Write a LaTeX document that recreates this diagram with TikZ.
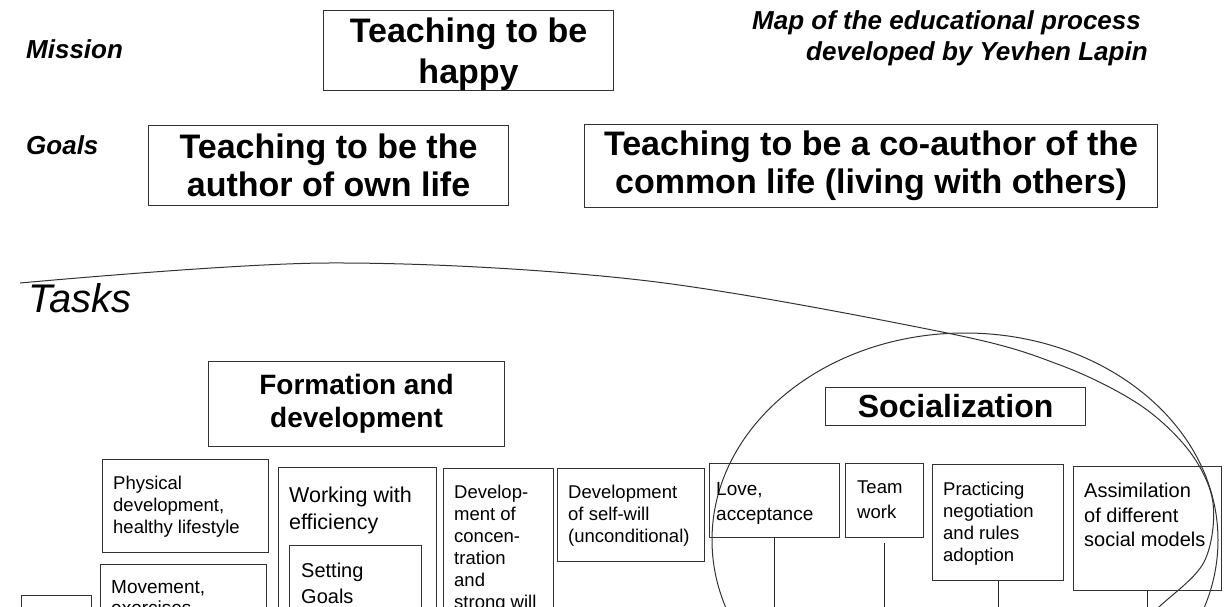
\documentclass[tikz,border=0pt]{standalone}
\usepackage{fontspec}
\setmainfont{Liberation Sans}
\usetikzlibrary{positioning}

\tikzset{
  frame/.style={draw=black!80, line width=1.1pt, inner sep=0pt, anchor=north west},
  head/.style={font=\bfseries\fontsize{34}{38}\selectfont, align=center},
  side/.style={font=\bfseries\itshape\fontsize{26}{30}\selectfont, anchor=base west, inner sep=0pt},
  note/.style={anchor=north west, align=left, inner xsep=11pt, inner ysep=17pt, font=\fontsize{18.5}{22}\selectfont},
  link/.style={draw=black!85, line width=1.1pt},
  arc/.style={draw=black!80, line width=1pt},
}

\begin{document}
\begin{tikzpicture}[x=1pt, y=-1pt]
  \useasboundingbox (0,0) rectangle (1229,606);
  \clip (0,0) rectangle (1229,606);

  % mission
  \node[side] (mission) at (26,58) {Mission};
  \node[frame, head, font=\bfseries\fontsize{34}{41}\selectfont, minimum width=290, minimum height=80] (happy) at (323,10) {\rule{0pt}{31pt}Teaching to be\\happy};
  \node[side] (map) at (752,29) {Map of the educational process};
  \node[side] (author) at (806,60) {developed by Yevhen Lapin};

  % goals
  \node[side] (goals) at (26,154) {Goals};
  \node[frame, head, minimum width=360, minimum height=80] (own) at (148,125) {Teaching to be the\\author of own life};
  \node[frame, head, minimum width=573, minimum height=83] (common) at (584,124) {Teaching to be a co-author of the\\common life (living with others)};

  % tasks
  \draw[arc] plot[smooth, tension=0.55] coordinates {(20,283) (327,263) (640,280) (947,333) (1060,365) (1140,405) (1190,452) (1213,503) (1204,562) (1160,606) (1120,640)};
  \node[anchor=base west, inner sep=0pt, font=\itshape\fontsize{40}{42}\selectfont] (tasks) at (28,312) {Tasks};
  \draw[arc] (965,540) ellipse [x radius=253, y radius=207];

  \node[frame, font=\bfseries\fontsize{28}{33}\selectfont, align=center, minimum width=296, minimum height=85] (formation) at (208,361) {Formation and\\development};
  \node[frame, font=\bfseries\fontsize{32}{34}\selectfont, minimum width=260, minimum height=38] (social) at (825,387) {Socialization};

  % formation and development
  \node[frame, minimum width=166, minimum height=93, label={[note]north west:{Physical\\development,\\healthy lifestyle}}] (physical) at (102,459) {};
  \node[frame, minimum width=166, minimum height=100, label={[note, inner ysep=16pt, font=\fontsize{19}{21}\selectfont]north west:{Movement,\\exercises}}] (movement) at (100,564) {};
  \node[frame, minimum width=70, minimum height=60] (left) at (21,595) {};
  \node[frame, minimum width=158, minimum height=200, label={[note, inner ysep=20pt, font=\fontsize{21.5}{27}\selectfont]north west:{Working with\\efficiency}}] (working) at (278,467) {};
  \node[frame, minimum width=132, minimum height=120, label={[note, inner xsep=12pt, inner ysep=18pt, font=\fontsize{20}{26}\selectfont]north west:{Setting\\Goals}}] (setting) at (289,545) {};
  \node[frame, minimum width=110, minimum height=200, label={[note]north west:{Develop-\\ment of\\concen-\\tration\\and\\strong will}}] (concentration) at (443,468) {};
  \node[frame, minimum width=147, minimum height=93, label={[note]north west:{Development\\of self-will\\(unconditional)}}] (selfwill) at (557,468) {};

  % socialization
  \node[frame, minimum width=130, minimum height=74, label={[note, inner xsep=7pt, inner ysep=19pt, font=\fontsize{19}{25}\selectfont]north west:{Love,\\acceptance}}] (love) at (709,463) {};
  \node[frame, minimum width=78, minimum height=74, label={[note, inner xsep=12pt, inner ysep=18pt, font=\fontsize{18.5}{25}\selectfont]north west:{Team\\work}}] (team) at (845,463) {};
  \node[frame, minimum width=131, minimum height=116, label={[note, inner ysep=18pt]north west:{Practicing\\negotiation\\and rules\\adoption}}] (practice) at (932,464) {};
  \node[frame, minimum width=148, minimum height=124, label={[note, font=\fontsize{20}{24.5}\selectfont]north west:{Assimilation\\of different\\social models}}] (assim) at (1073,466) {};

  \foreach \n in {love,team,practice,assim}
    \coordinate (\n-end) at (\n.south |- 0,640);
  \draw[link] (love) -- (love-end);
  \draw[link, shorten <=5pt] (team) -- (team-end);
  \draw[link] (practice) -- (practice-end);
  \draw[link] (assim) -- (assim-end);
\end{tikzpicture}
\end{document}
